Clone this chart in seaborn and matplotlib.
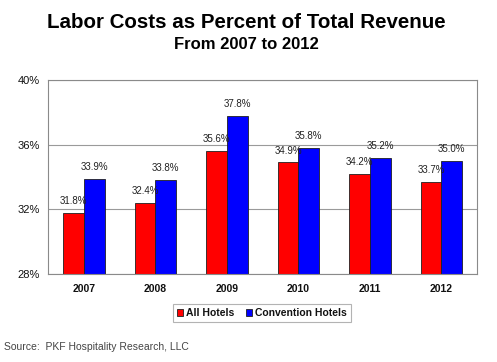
import pandas as pd
import seaborn as sns
import matplotlib.pyplot as plt
from matplotlib.ticker import FixedLocator, FuncFormatter

years = ['2007', '2008', '2009', '2010', '2011', '2012']
all_hotels = [31.8, 32.4, 35.6, 34.9, 34.2, 33.7]
convention_hotels = [33.9, 33.8, 37.8, 35.8, 35.2, 35.0]
series_names = ['All Hotels', 'Convention Hotels']
colors = ['#FF0000', '#0000FF']

df = pd.concat([
    pd.DataFrame({'year': years, 'value': all_hotels, 'series': series_names[0]}),
    pd.DataFrame({'year': years, 'value': convention_hotels, 'series': series_names[1]}),
], ignore_index=True)

sns.set_style("white")
plt.rcParams['font.family'] = ['Liberation Sans', 'DejaVu Sans']
plt.rcParams['text.color'] = '#111111'
plt.rcParams['xtick.color'] = '#111111'
plt.rcParams['ytick.color'] = '#111111'

fig = plt.figure(figsize=(4.97, 3.62), dpi=100)
ax = fig.add_axes([0.097, 0.243, 0.863, 0.536])

sns.barplot(data=df, x='year', y='value', hue='series', palette=colors,
            width=0.58, gap=0, edgecolor='#202020', linewidth=0.6,
            saturation=1, ax=ax, legend=True)

for c in ax.containers:
    ax.bar_label(c, fmt='%.1f%%', padding=5, fontsize=7, color='#222222')

ax.set_ylim(28, 40)
ax.set_yticks([28, 32, 36, 40])
ax.yaxis.set_major_formatter(FuncFormatter(lambda v, p: f"{int(v)}%"))
ax.set_xlim(-0.5, 5.5)
ax.set_xlabel('')
ax.set_ylabel('')
ax.grid(axis='y', color='#9a9a9a', linewidth=0.8)
ax.set_axisbelow(True)
for s in ax.spines.values():
    s.set_color('#8a8a8a')
    s.set_linewidth(0.8)

ax.tick_params(axis='y', labelsize=8, length=0, pad=6)
ax.tick_params(axis='x', which='major', labelsize=7.5, length=0, pad=7)
for lbl in ax.get_xticklabels():
    lbl.set_fontweight('bold')
ax.xaxis.set_minor_locator(FixedLocator([-0.5 + i for i in range(7)]))
ax.tick_params(axis='x', which='minor', length=4, color='#8a8a8a', direction='out')

handles, labels = ax.get_legend_handles_labels()
ax.legend_.remove()
leg = fig.legend(handles, labels, loc='center', bbox_to_anchor=(0.527, 0.135),
                 ncol=2, frameon=True, fancybox=False, edgecolor='#a0a0a0',
                 handlelength=0.6, handleheight=0.6, handletextpad=0.3,
                 columnspacing=1.1, borderpad=0.4,
                 prop={'size': 7.5, 'weight': 'bold'})
leg.get_frame().set_linewidth(0.8)

fig.text(0.495, 0.939, 'Labor Costs as Percent of Total Revenue',
         ha='center', va='center', fontsize=14.8, fontweight='bold', color='black')
fig.text(0.495, 0.876, 'From 2007 to 2012',
         ha='center', va='center', fontsize=12, fontweight='bold', color='black')
fig.text(0.008, 0.041, 'Source:  PKF Hospitality Research, LLC',
         ha='left', va='center', fontsize=7.5, color='#444444')

plt.savefig('out.png', dpi=100)
